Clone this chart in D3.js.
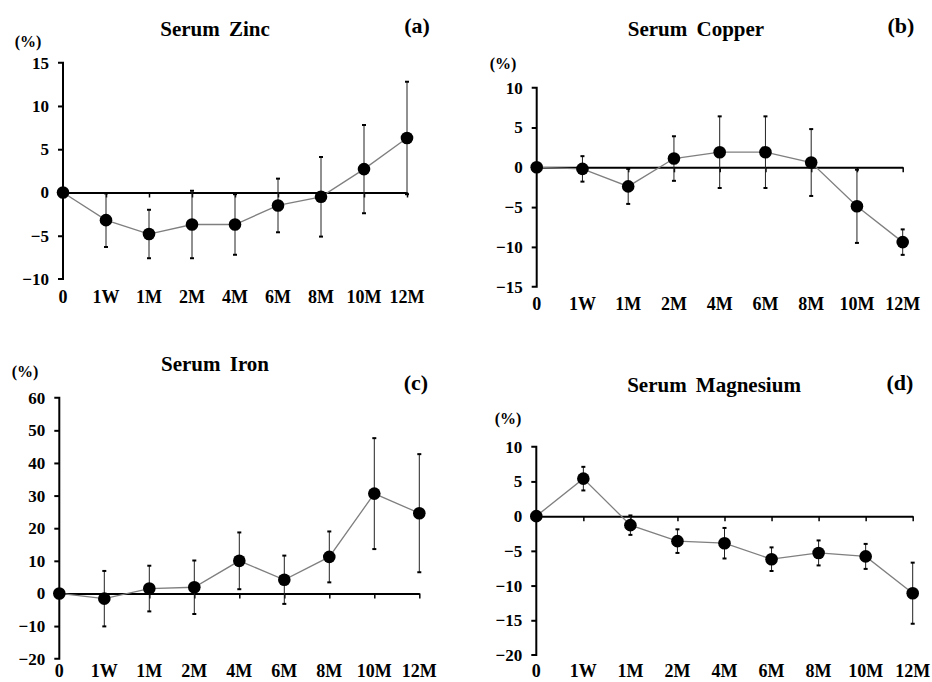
<!DOCTYPE html>
<html>
<head>
<meta charset="utf-8">
<script src="https://cdn.jsdelivr.net/npm/d3@7"></script>
<style>
  body { margin: 0; background: #fff; }
  svg text { font-family: "Liberation Serif", "Times New Roman", serif; font-weight: bold; fill: #000; }
</style>
</head>
<body>
<svg id="chart" width="932" height="682"></svg>
<script>
// time points shared by all panels
const timePoints = ["0", "1W", "1M", "2M", "4M", "6M", "8M", "10M", "12M"];

// % change from baseline, mean and SD
const zincMean   = [0, -3.2, -4.8, -3.7, -3.7, -1.5, -0.5, 2.7, 6.3];
const zincSd     = [0, 3.1, 2.8, 3.9, 3.5, 3.1, 4.6, 5.1, 6.5];
const copperMean = [0, -0.2, -2.4, 1.1, 1.9, 1.9, 0.6, -4.9, -9.4];
const copperSd   = [0, 1.6, 2.2, 2.8, 4.5, 4.5, 4.2, 4.6, 1.6];
const ironMean   = [0, -1.6, 1.5, 1.9, 10.0, 4.2, 11.2, 30.6, 24.6];
const ironSd     = [0, 8.5, 7.0, 8.2, 8.7, 7.4, 7.8, 17.0, 18.1];
const magMean    = [0, 5.4, -1.3, -3.6, -3.9, -6.2, -5.3, -5.8, -11.1];
const magSd      = [0, 1.7, 1.4, 1.7, 2.2, 1.7, 1.8, 1.8, 4.4];

const zincTicks   = [-10, -5, 0, 5, 10, 15];
const copperTicks = [-15, -10, -5, 0, 5, 10];
const ironTicks   = [-20, -10, 0, 10, 20, 30, 40, 50, 60];
const magTicks    = [-20, -15, -10, -5, 0, 5, 10];

const panels = [
  { title: "Serum Zinc", tag: "(a)", mean: zincMean, sd: zincSd, ticks: zincTicks,
    x0: 63, x1: 407, yTop: 62.7, yBot: 279, titleX: 215, titleY: 36, tagX: 417, tagY: 33,
    pctX: 28, pctY: 47, labY: 303 },
  { title: "Serum Copper", tag: "(b)", mean: copperMean, sd: copperSd, ticks: copperTicks,
    x0: 536.7, x1: 902.7, yTop: 87.7, yBot: 286.7, titleX: 696, titleY: 36, tagX: 901, tagY: 33,
    pctX: 503, pctY: 69, labY: 310 },
  { title: "Serum Iron", tag: "(c)", mean: ironMean, sd: ironSd, ticks: ironTicks,
    x0: 59.3, x1: 419.3, yTop: 397.7, yBot: 658.7, titleX: 215, titleY: 371, tagX: 416, tagY: 390,
    pctX: 25, pctY: 377, labY: 677 },
  { title: "Serum Magnesium", tag: "(d)", mean: magMean, sd: magSd, ticks: magTicks,
    x0: 536.3, x1: 912.7, yTop: 446.7, yBot: 655, titleX: 714, titleY: 392, tagX: 900, tagY: 390,
    pctX: 508, pctY: 424, labY: 677 }
];

const svg = d3.select("#chart");

panels.forEach(p => {
  const g = svg.append("g");
  const ext = d3.extent(p.ticks);

  const x = d3.scalePoint().domain(timePoints).range([p.x0, p.x1]);
  const y = d3.scaleLinear().domain(ext).range([p.yBot, p.yTop]);

  const pts = timePoints.map((t, i) => ({ t, m: p.mean[i], s: p.sd[i] }));

  // y axis
  const yAxis = d3.axisLeft(y).tickValues(p.ticks).tickSize(5).tickPadding(9);
  const ya = g.append("g").attr("transform", `translate(${p.x0},0)`).call(yAxis);
  ya.select(".domain").attr("stroke", "#000").attr("stroke-width", 2).attr("d", `M-5,${p.yTop}H0V${p.yBot}H-5`);
  ya.selectAll(".tick line").attr("stroke", "#000").attr("stroke-width", 2);
  ya.selectAll(".tick text").style("font-size", "17px").style("font-family", null);
  ya.selectAll(".tick").filter(d => d === ext[0] || d === ext[1]).select("line").remove();

  // x axis at zero, labels at the bottom
  const xa = g.append("g").attr("transform", `translate(0,${y(0)})`)
    .call(d3.axisBottom(x).tickSize(5).tickSizeOuter(0).tickFormat(""));
  xa.select(".domain").attr("stroke", "#000").attr("stroke-width", 2);
  xa.selectAll(".tick line").attr("stroke", "#000").attr("stroke-width", 1.5);
  xa.selectAll(".tick").filter(d => d === "0").remove();

  g.append("g").selectAll("text").data(timePoints).enter().append("text")
    .attr("x", d => x(d)).attr("y", p.labY)
    .attr("text-anchor", "middle")
    .style("font-size", "18px")
    .text(d => d);

  // error bars
  const eb = g.append("g").selectAll("g").data(pts.filter(d => d.s > 0)).enter().append("g");
  eb.append("line")
    .attr("x1", d => x(d.t)).attr("x2", d => x(d.t))
    .attr("y1", d => y(d.m + d.s)).attr("y2", d => y(d.m - d.s))
    .attr("stroke", "#222").attr("stroke-width", 1);
  [1, -1].forEach(sgn => {
    eb.append("line")
      .attr("x1", d => x(d.t) - 2).attr("x2", d => x(d.t) + 2)
      .attr("y1", d => y(d.m + sgn * d.s)).attr("y2", d => y(d.m + sgn * d.s))
      .attr("stroke", "#000").attr("stroke-width", 2);
  });

  // connecting line
  g.append("path").datum(pts)
    .attr("fill", "none").attr("stroke", "#7f7f7f").attr("stroke-width", 1.3)
    .attr("d", d3.line().x(d => x(d.t)).y(d => y(d.m)));

  // markers
  g.append("g").selectAll("circle").data(pts).enter().append("circle")
    .attr("cx", d => x(d.t)).attr("cy", d => y(d.m)).attr("r", 6.3)
    .attr("fill", "#000");

  // titles
  g.append("text").attr("x", p.titleX).attr("y", p.titleY).attr("text-anchor", "middle")
    .style("font-size", "21px").style("word-spacing", "4px").text(p.title);
  g.append("text").attr("x", p.tagX).attr("y", p.tagY).attr("text-anchor", "middle")
    .style("font-size", "22px").text(p.tag);
  g.append("text").attr("x", p.pctX).attr("y", p.pctY).attr("text-anchor", "middle")
    .style("font-size", "16px").text("(%)");
});
</script>
</body>
</html>
